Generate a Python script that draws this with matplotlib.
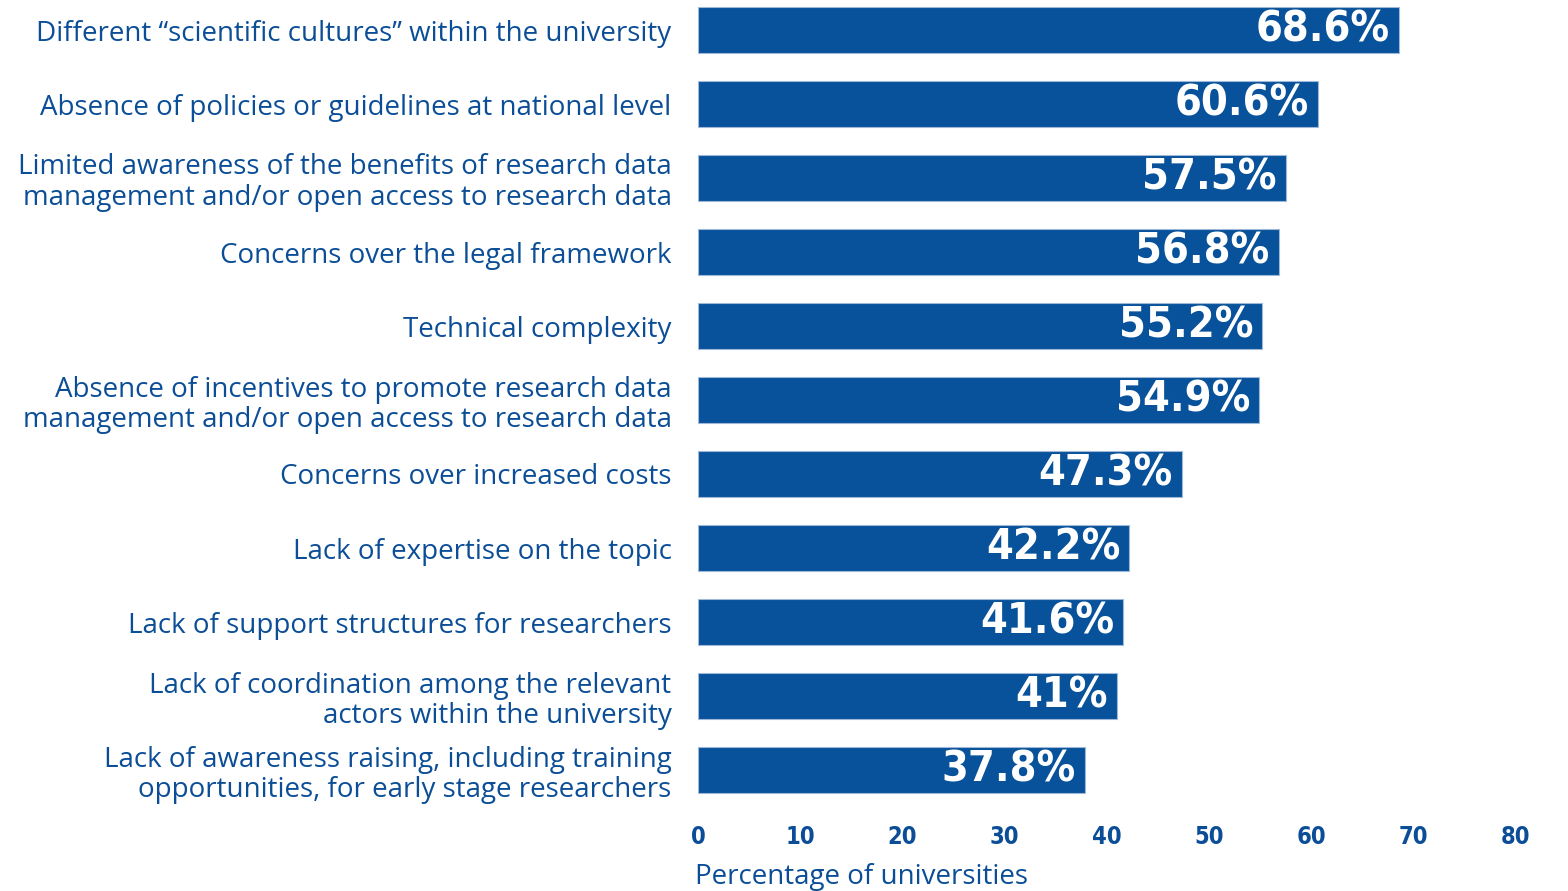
import matplotlib
matplotlib.use("Agg")
import matplotlib.pyplot as plt

# data (top to bottom)
categories = [
    "Different \u201cscientific cultures\u201d within the university",
    "Absence of policies or guidelines at national level",
    "Limited awareness of the benefits of research data\nmanagement and/or open access to research data",
    "Concerns over the legal framework",
    "Technical complexity",
    "Absence of incentives to promote research data\nmanagement and/or open access to research data",
    "Concerns over increased costs",
    "Lack of expertise on the topic",
    "Lack of support structures for researchers",
    "Lack of coordination among the relevant\nactors within the university",
    "Lack of awareness raising, including training\nopportunities, for early stage researchers",
]
values = [68.6, 60.6, 57.5, 56.8, 55.2, 54.9, 47.3, 42.2, 41.6, 41.0, 37.8]
value_labels = ["68.6%", "60.6%", "57.5%", "56.8%", "55.2%", "54.9%",
                "47.3%", "42.2%", "41.6%", "41%", "37.8%"]
xticks = [0, 10, 20, 30, 40, 50, 60, 70, 80]

bar_color = "#07529A"
text_color = "#0B4E97"

plt.rcParams['font.family'] = ['Open Sans', 'DejaVu Sans']

fig = plt.figure(figsize=(15.68, 8.91), dpi=100, facecolor='white')
ax = fig.add_axes([698 / 1568, 1 - 807 / 891, 818 / 1568, 807 / 891])

y = list(range(len(categories)))
bars = ax.barh(y, values, height=0.63, color=bar_color, edgecolor='#9DB8D8', linewidth=0.8)

# value labels inside the bars
for bar, lab in zip(bars, value_labels):
    ax.text(bar.get_width() - 0.9, bar.get_y() + bar.get_height() / 2, lab,
            ha='right', va='center', color='white', fontsize=31, fontweight='bold',
            family='DejaVu Sans', fontstretch='condensed')

ax.set_xlim(0, 80)
ax.set_ylim(len(categories) - 0.5, -30 / 74)

ax.set_yticks(y)
ax.set_yticklabels(categories, fontsize=20, color=text_color, linespacing=1.1)
ax.set_xticks(xticks)
ax.set_xticklabels([str(t) for t in xticks], fontsize=17, fontweight='bold', color=text_color,
                   family='DejaVu Sans', fontstretch='condensed')
ax.tick_params(axis='y', length=0, pad=19)
ax.tick_params(axis='x', length=0, pad=13)

for s in ax.spines.values():
    s.set_visible(False)

fig.text(695 / 1568, 1 - 877 / 891, "Percentage of universities", fontsize=20,
         color=text_color, ha='left', va='center')

fig.savefig("out.png", dpi=100, facecolor='white')
